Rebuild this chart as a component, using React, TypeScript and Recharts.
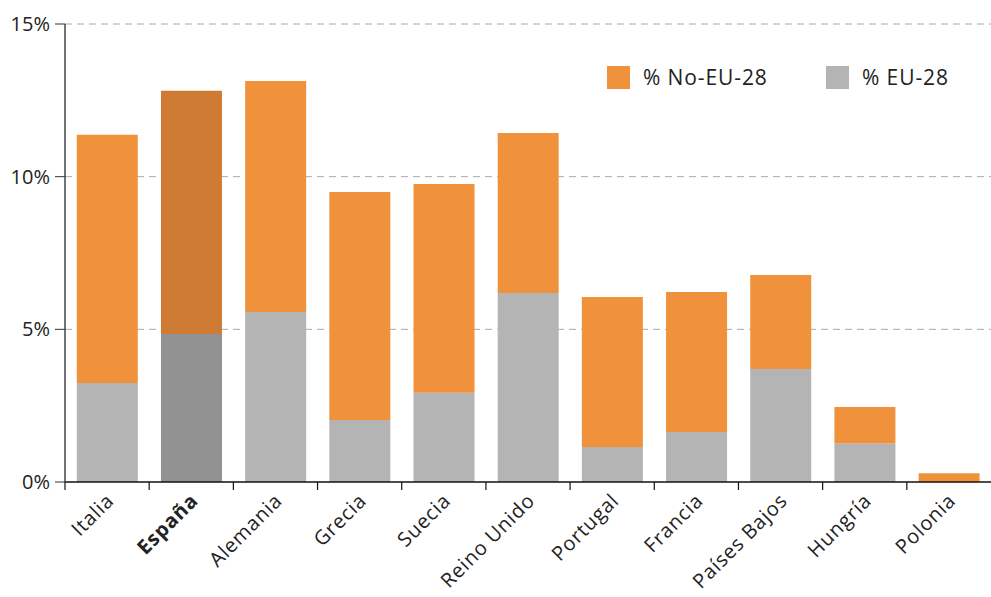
import React from "react";
import { BarChart, Bar, XAxis, YAxis, CartesianGrid, Cell } from "recharts";

const COUNTRIES = [
  "Italia",
  "España",
  "Alemania",
  "Grecia",
  "Suecia",
  "Reino Unido",
  "Portugal",
  "Francia",
  "Países Bajos",
  "Hungría",
  "Polonia",
];
const EU_28 = [3.24, 4.85, 5.57, 2.03, 2.92, 6.19, 1.15, 1.64, 3.7, 1.26, 0];
const NO_EU_28 = [8.13, 7.96, 7.56, 7.47, 6.84, 5.24, 4.91, 4.58, 3.08, 1.2, 0.29];
const Y_TICKS = [0, 5, 10, 15];
const HIGHLIGHT = "España";

const data = COUNTRIES.map((name, i) => ({
  name,
  eu: EU_28[i],
  noEu: NO_EU_28[i],
}));

const W = 991;
const H = 597;
const LEFT = 65;
const BAND = (W - LEFT) / COUNTRIES.length;
const FONT = "'Open Sans', 'Noto Sans', sans-serif";

const ORANGE = "#F0923C";
const ORANGE_DARK = "#D07B34";
const GREY = "#B4B4B4";
const GREY_DARK = "#929292";

const XTick = (props: any) => {
  const { x, y, payload } = props;
  const bold = payload.value === HIGHLIGHT;
  const ax = x + 8;
  const ay = y + 20;
  return (
    <g>
      <line x1={x - BAND / 2} x2={x - BAND / 2} y1={y} y2={y + 8} stroke="#111" strokeWidth={1.2} />
      <text
        x={ax}
        y={ay}
        textAnchor="end"
        transform={`rotate(-45, ${ax}, ${ay})`}
        fontSize={20}
        letterSpacing={0.8}
        fontFamily={FONT}
        fontWeight={bold ? 700 : 400}
        fill="#222"
      >
        {payload.value}
      </text>
    </g>
  );
};

const legendItem = (left: number, color: string, label: string) => (
  <div
    style={{
      position: "absolute",
      left,
      top: 65,
      display: "flex",
      alignItems: "center",
      fontFamily: FONT,
      fontSize: 21,
      letterSpacing: 0.9,
      color: "#222",
      lineHeight: "25px",
      whiteSpace: "nowrap",
    }}
  >
    <span style={{ width: 23, height: 23, background: color, marginRight: 13 }} />
    {label}
  </div>
);

export default function App() {
  return (
    <div style={{ position: "absolute", left: 0, top: 0, width: W, height: H, background: "#fff" }}>
      <BarChart
        width={W}
        height={H}
        data={data}
        margin={{ top: 24, right: 0, bottom: 0, left: 0 }}
        barCategoryGap="14%"
      >
        <CartesianGrid
          vertical={false}
          stroke="#aaa"
          strokeDasharray="7 5"
          horizontalValues={[5, 10, 15]}
        />
        <XAxis
          dataKey="name"
          interval={0}
          height={115}
          tickSize={0}
          tickMargin={0}
          tick={<XTick />}
          axisLine={{ stroke: "#111", strokeWidth: 1.5 }}
        />
        <YAxis
          width={LEFT}
          domain={[0, 15]}
          ticks={Y_TICKS}
          tickFormatter={(v: number) => `${v}%`}
          tickSize={10}
          tickMargin={5}
          tick={{ fontSize: 20, fontFamily: FONT, fill: "#222" }}
          tickLine={{ stroke: "#333" }}
          axisLine={{ stroke: "#444", strokeWidth: 1.5 }}
        />
        <Bar dataKey="eu" stackId="a" name="% EU-28" isAnimationActive={false}>
          {data.map((d) => (
            <Cell key={d.name} fill={d.name === HIGHLIGHT ? GREY_DARK : GREY} />
          ))}
        </Bar>
        <Bar dataKey="noEu" stackId="a" name="% No-EU-28" isAnimationActive={false}>
          {data.map((d) => (
            <Cell key={d.name} fill={d.name === HIGHLIGHT ? ORANGE_DARK : ORANGE} />
          ))}
        </Bar>
      </BarChart>
      {legendItem(607, ORANGE, "% No-EU-28")}
      {legendItem(826, GREY, "% EU-28")}
    </div>
  );
}
